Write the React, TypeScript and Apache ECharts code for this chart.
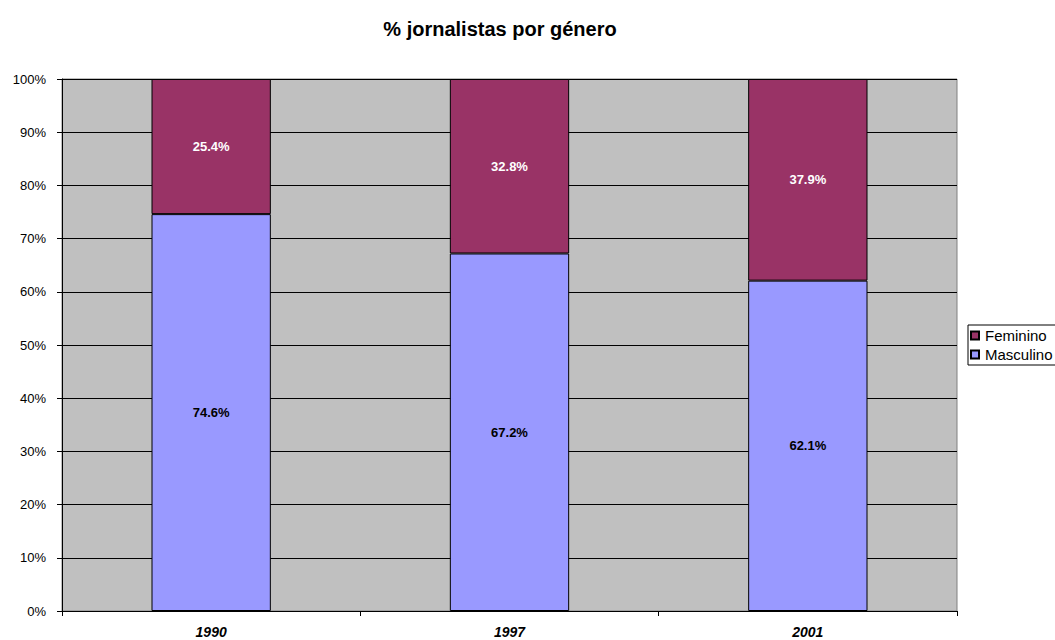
import React, { useEffect, useRef } from "react";
import * as echarts from "echarts";

const categories = ["1990", "1997", "2001"];
const masculino = [74.6, 67.2, 62.1];
const feminino = [25.4, 32.8, 37.9];
const legendNames = ["Feminino", "Masculino"];
const titleText = "% jornalistas por género";

export default function App() {
  const ref = useRef<HTMLDivElement>(null);
  useEffect(() => {
    document.body.style.margin = "0";
    if (!ref.current) return;
    const chart = echarts.init(ref.current, undefined, { renderer: "svg" });
    const font = "Arial, 'Liberation Sans', sans-serif";
    const fmt = (p: any) => Number(p.value).toFixed(1) + "%";
    chart.setOption({
      animation: false,
      backgroundColor: "#ffffff",
      title: {
        text: titleText,
        left: 500,
        textAlign: "center",
        top: 19,
        padding: 0,
        textStyle: { fontFamily: font, fontSize: 20, fontWeight: "bold", color: "#000" },
      },
      legend: {
        data: legendNames,
        orient: "vertical",
        left: 968,
        top: 325,
        padding: [3, 6, 3, 2],
        itemGap: 4,
        itemWidth: 8,
        itemHeight: 8,
        icon: "rect",
        borderColor: "#000",
        borderWidth: 1,
        borderRadius: 0,
        textStyle: { fontFamily: font, fontSize: 15, color: "#000", lineHeight: 14, padding: [0, 0, 0, 1] },
      },
      grid: {
        left: 62,
        right: 98,
        top: 79,
        bottom: 29,
        show: true,
        backgroundColor: "#C0C0C0",
        borderColor: "#808080",
        borderWidth: 1,
      },
      xAxis: {
        type: "category",
        data: categories,
        boundaryGap: true,
        axisLine: { lineStyle: { color: "#000", width: 1 } },
        axisTick: { show: true, interval: 0, length: 5, lineStyle: { color: "#000" } },
        axisLabel: {
          margin: 14,
          fontFamily: font,
          fontSize: 14,
          fontWeight: "bold",
          fontStyle: "italic",
          color: "#000",
        },
      },
      yAxis: {
        type: "value",
        min: 0,
        max: 100,
        interval: 10,
        axisLine: { show: true, lineStyle: { color: "#000", width: 1 } },
        axisTick: { show: true, length: 5, lineStyle: { color: "#000" } },
        splitLine: { show: true, lineStyle: { color: "#000", width: 1 } },
        axisLabel: {
          formatter: "{value}%",
          margin: 16,
          fontFamily: font,
          fontSize: 13,
          color: "#000",
        },
      },
      series: [
        {
          name: "Masculino",
          type: "bar",
          stack: "total",
          barWidth: "40%",
          data: masculino,
          itemStyle: { color: "#9999FF", borderColor: "#000", borderWidth: 1 },
          label: {
            show: true,
            position: "inside",
            formatter: fmt,
            fontFamily: font,
            fontSize: 13,
            fontWeight: "bold",
            color: "#000",
          },
        },
        {
          name: "Feminino",
          type: "bar",
          stack: "total",
          barWidth: "40%",
          data: feminino,
          itemStyle: { color: "#993366", borderColor: "#000", borderWidth: 1 },
          label: {
            show: true,
            position: "inside",
            formatter: fmt,
            fontFamily: font,
            fontSize: 13,
            fontWeight: "bold",
            color: "#fff",
          },
        },
      ],
    });
    return () => chart.dispose();
  }, []);
  return <div ref={ref} style={{ width: 1055, height: 640 }} />;
}
